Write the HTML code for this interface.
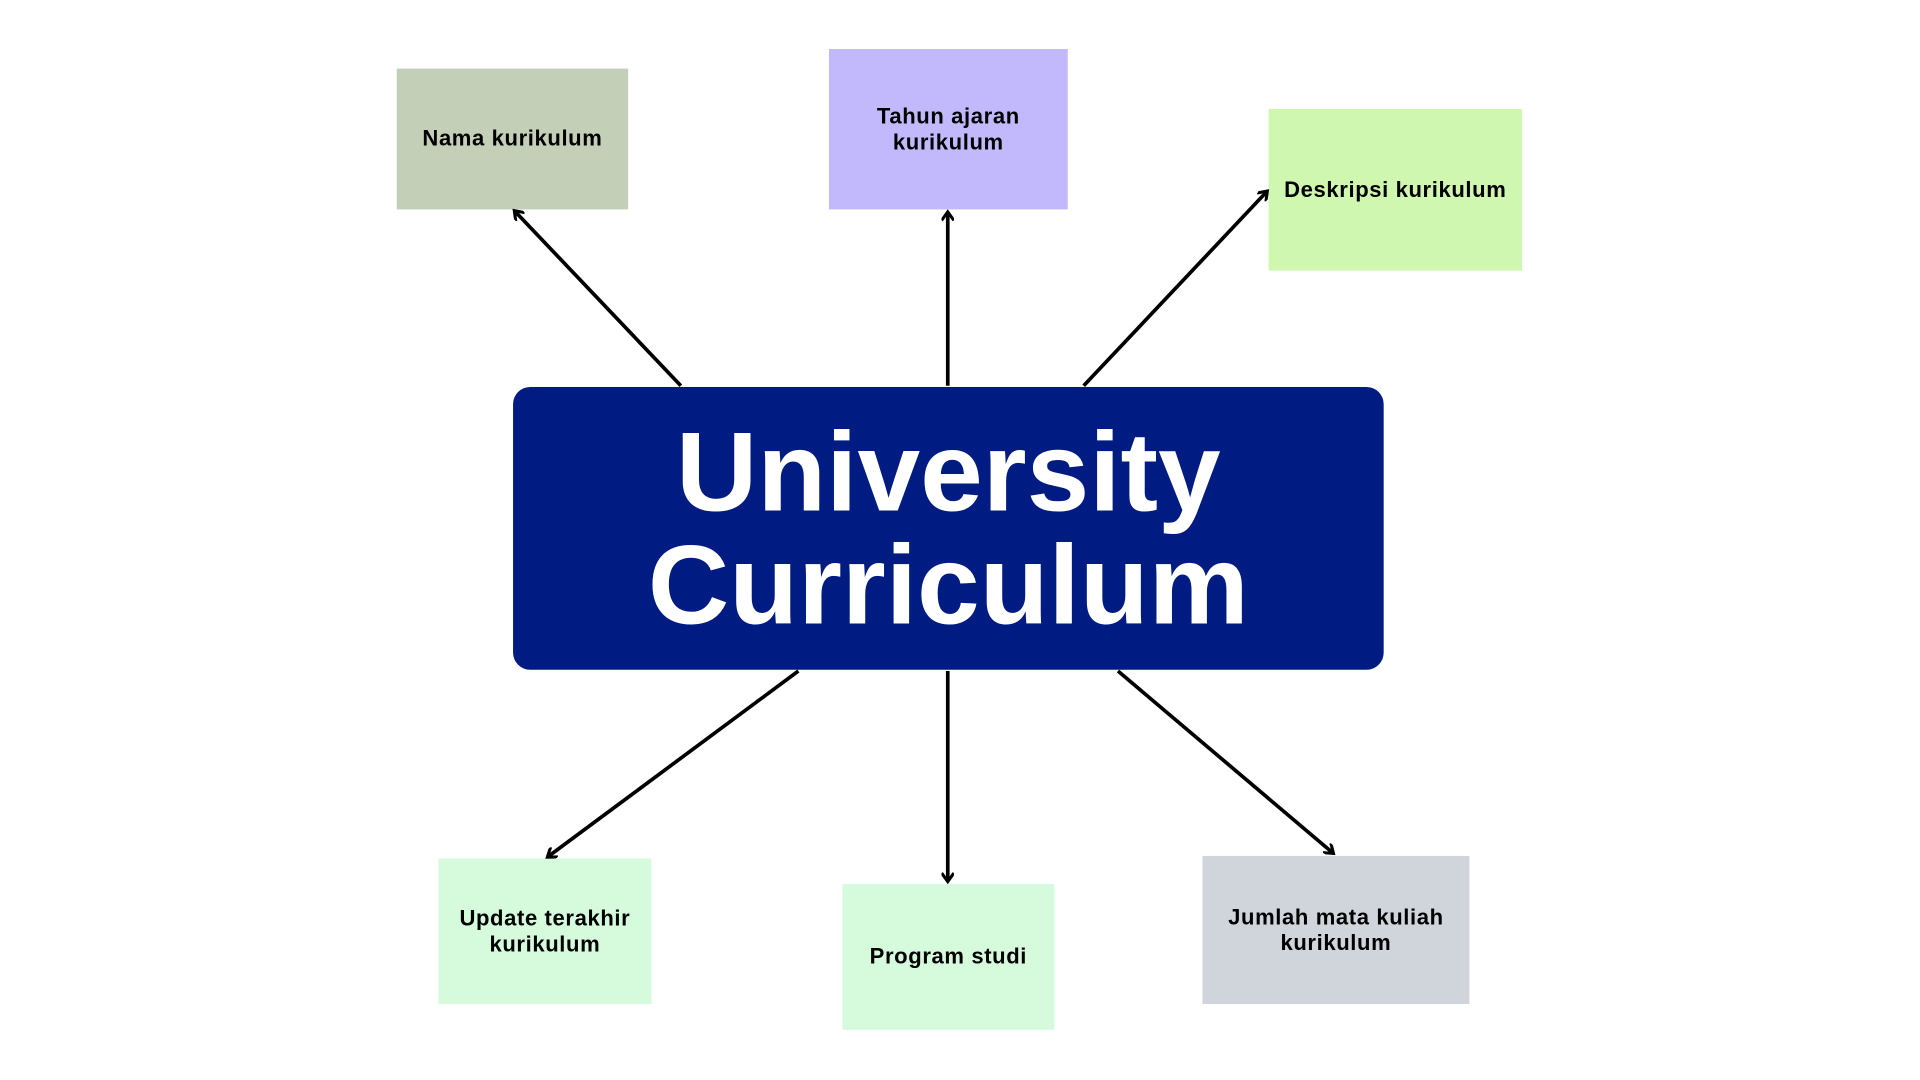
<!DOCTYPE html>
<html><head><style>
html,body{margin:0;padding:0;background:#fff;overflow:hidden}
#w{position:absolute;left:0;top:0;width:1568px;height:882px;transform:scale(1.22449);transform-origin:0 0;font-family:"Liberation Sans",sans-serif}
.b{position:absolute;display:flex;align-items:center;justify-content:center;text-align:center;font-weight:bold;font-size:18px;line-height:21px;color:#000;letter-spacing:0.5px}
#c{position:absolute;left:419px;top:316px;width:711px;height:231px;background:#001c82;border-radius:14px;color:#fff;font-weight:bold;font-size:92px;line-height:92px;text-align:center;display:flex;align-items:center;justify-content:center}
svg{position:absolute;left:0;top:0}
</style></head><body><div id="w">
<div class="b" style="left:324px;top:56px;width:189px;height:115px;background:#c4cfb7">Nama kurikulum</div>
<div class="b" style="left:677px;top:40px;width:195px;height:131px;background:#c2b8fc">Tahun ajaran<br>kurikulum</div>
<div class="b" style="left:1036px;top:89px;width:207px;height:132px;background:#cff7b0">Deskripsi kurikulum</div>
<div class="b" style="left:358px;top:701px;width:174px;height:119px;background:#d5fadc">Update terakhir<br>kurikulum</div>
<div class="b" style="left:688px;top:722px;width:173px;height:119px;background:#d5fadc">Program studi</div>
<div class="b" style="left:982px;top:699px;width:218px;height:121px;background:#d0d5dc">Jumlah mata kuliah<br>kurikulum</div>
<div id="c"><div>University<br>Curriculum</div></div>
<svg width="1568" height="882" viewBox="0 0 1568 882">
<defs><marker id="a" markerWidth="10" markerHeight="10" refX="8" refY="5" orient="auto" markerUnits="userSpaceOnUse"><path d="M1,0 L8,5 L1,10" fill="none" stroke="#000" stroke-width="2.5"/></marker></defs>
<g stroke="#000" stroke-width="3" fill="none" marker-end="url(#a)">
<line x1="556" y1="315" x2="420" y2="172"/>
<line x1="774" y1="315" x2="774" y2="173"/>
<line x1="885" y1="315" x2="1035" y2="156"/>
<line x1="652" y1="548" x2="447" y2="700"/>
<line x1="774" y1="548" x2="774" y2="720"/>
<line x1="913" y1="548" x2="1089" y2="697"/>
</g></svg>
</div></body></html>
